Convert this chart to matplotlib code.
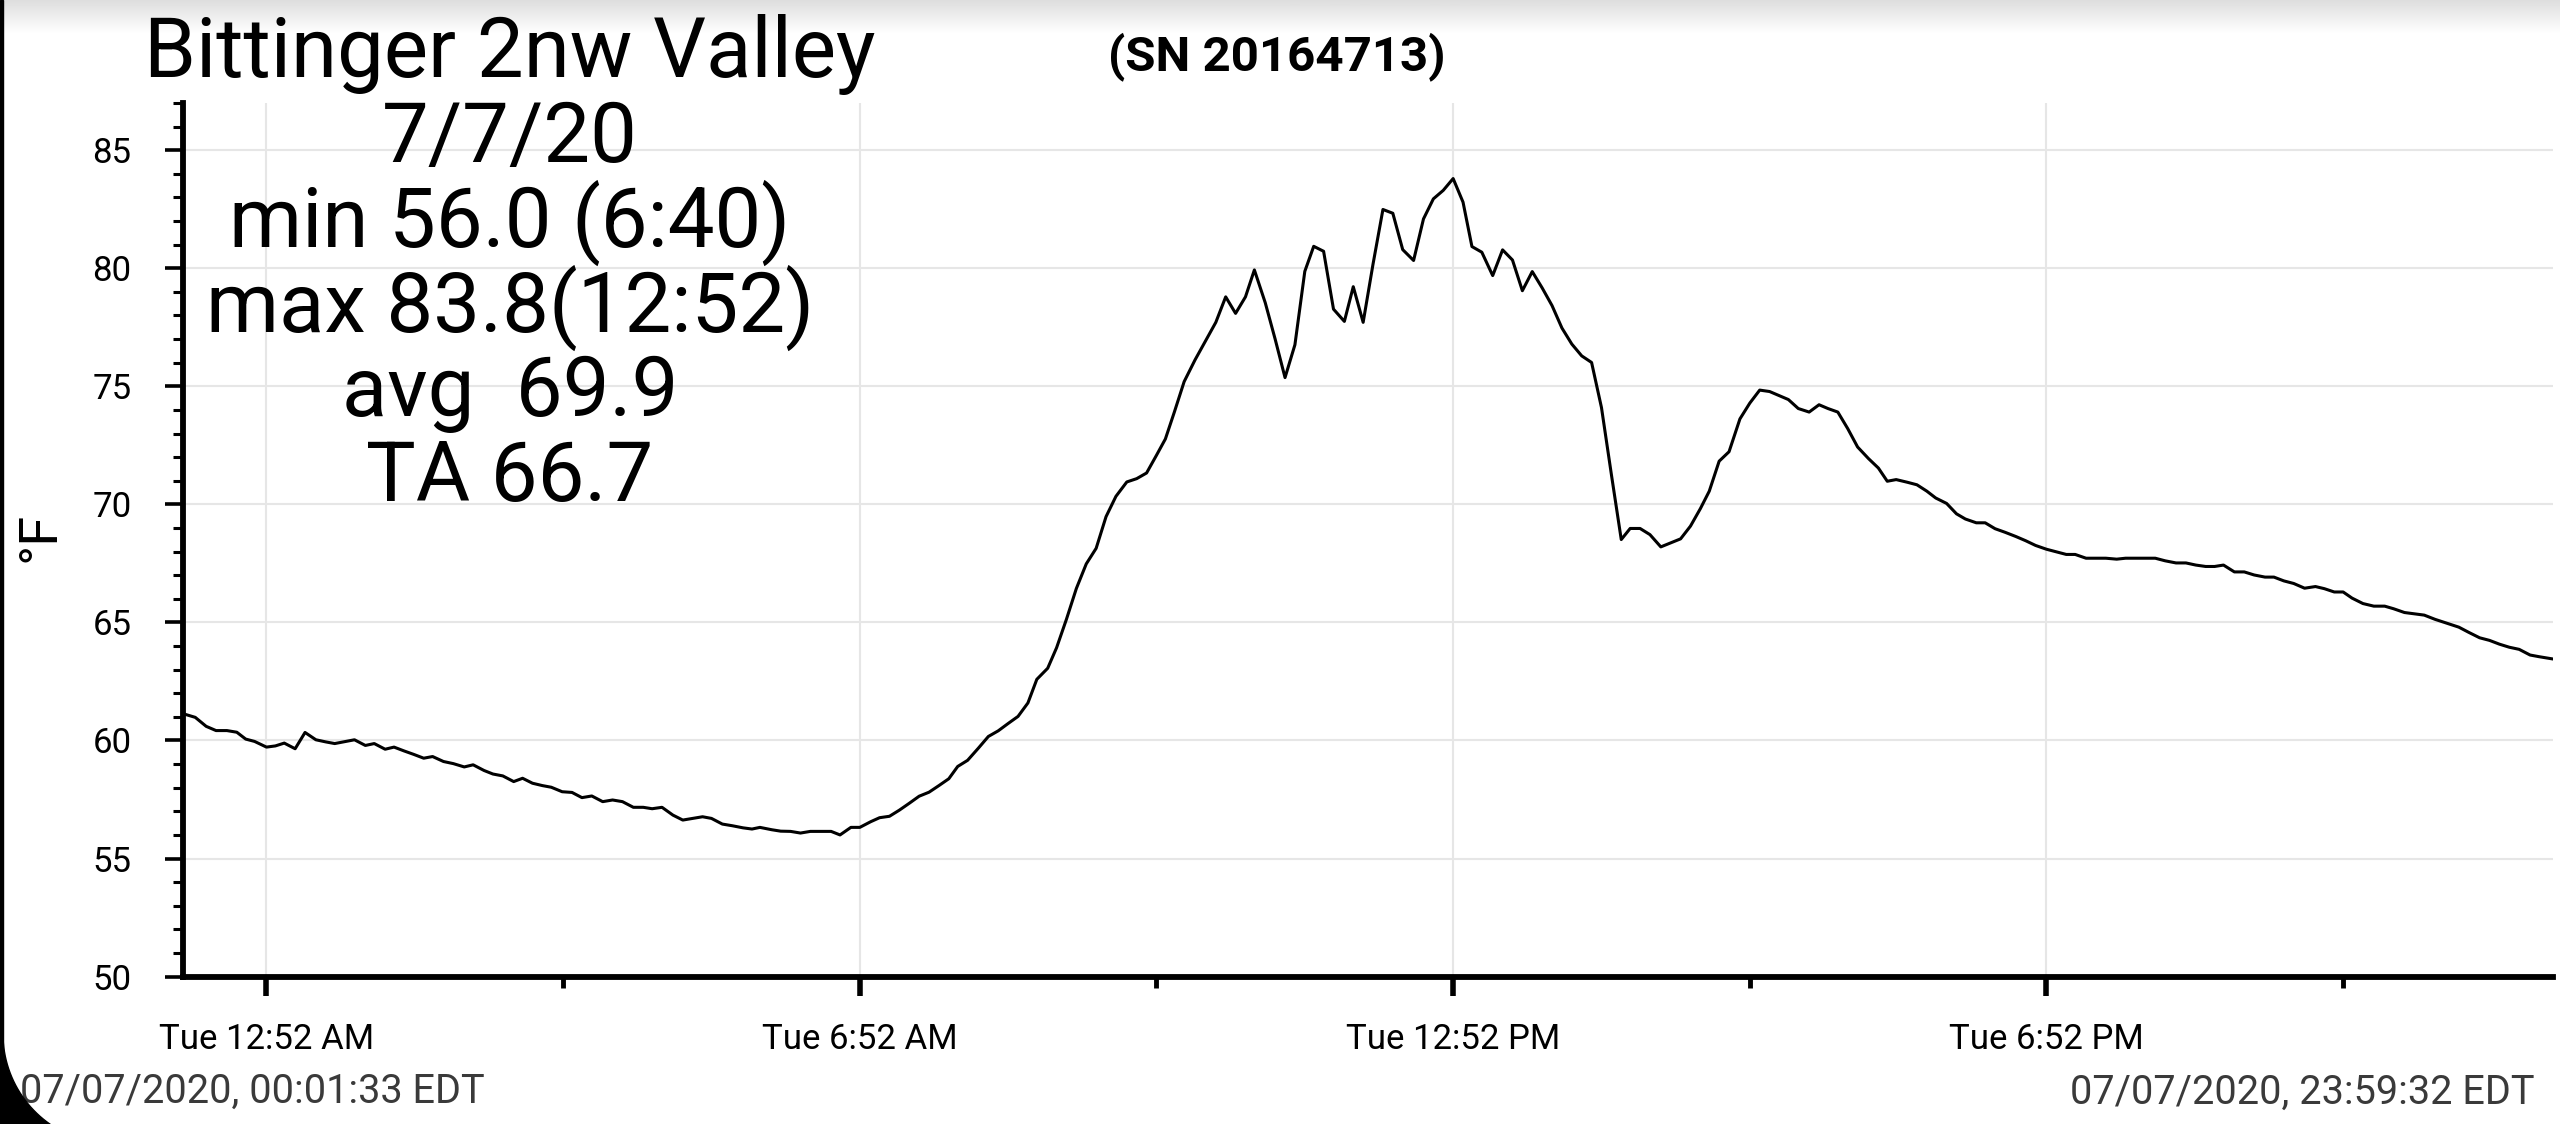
import matplotlib
matplotlib.use("Agg")
import matplotlib.pyplot as plt
import numpy as np
from matplotlib.patches import Rectangle, Polygon
from matplotlib.transforms import Bbox, TransformedBbox

plt.rcParams['font.family'] = ['Roboto', 'DejaVu Sans']

# hours since midnight, 7/7/2020
hours = [
    0.03, 0.15, 0.26, 0.36, 0.47, 0.57, 0.66, 0.75, 0.87, 0.96,
    1.05, 1.16, 1.26, 1.37, 1.47, 1.56, 1.67, 1.76, 1.87, 1.96,
    2.07, 2.16, 2.26, 2.36, 2.46, 2.55, 2.66, 2.76, 2.87, 2.96,
    3.07, 3.16, 3.26, 3.37, 3.46, 3.56, 3.66, 3.75, 3.86, 3.96,
    4.06, 4.16, 4.27, 4.37, 4.47, 4.58, 4.68, 4.77, 4.87, 4.98,
    5.08, 5.18, 5.28, 5.37, 5.48, 5.58, 5.69, 5.78, 5.86, 5.98,
    6.07, 6.17, 6.27, 6.37, 6.48, 6.58, 6.67, 6.78, 6.87, 6.98,
    7.07, 7.17, 7.27, 7.37, 7.47, 7.57, 7.67, 7.77, 7.86, 7.96,
    8.07, 8.17, 8.27, 8.37, 8.47, 8.57, 8.66, 8.77, 8.86, 8.96,
    9.06, 9.16, 9.26, 9.36, 9.46, 9.57, 9.67, 9.77, 9.87, 9.96,
    10.05, 10.15, 10.26, 10.36, 10.47, 10.57, 10.67, 10.77, 10.86, 10.97,
    11.07, 11.17, 11.27, 11.37, 11.46, 11.56, 11.66, 11.77, 11.86, 11.96,
    12.06, 12.16, 12.26, 12.36, 12.47, 12.57, 12.67, 12.77, 12.87, 12.97,
    13.06, 13.16, 13.27, 13.37, 13.47, 13.57, 13.67, 13.77, 13.87, 13.97,
    14.07, 14.17, 14.27, 14.37, 14.47, 14.57, 14.66, 14.76, 14.86, 14.97,
    15.07, 15.17, 15.27, 15.37, 15.46, 15.56, 15.66, 15.77, 15.87, 15.97,
    16.07, 16.16, 16.26, 16.36, 16.47, 16.57, 16.66, 16.76, 16.86, 16.96,
    17.07, 17.17, 17.26, 17.35, 17.46, 17.56, 17.66, 17.75, 17.86, 17.96,
    18.05, 18.16, 18.25, 18.35, 18.45, 18.56, 18.66, 18.76, 18.87, 18.97,
    19.07, 19.16, 19.27, 19.38, 19.47, 19.58, 19.67, 19.78, 19.88, 19.97,
    20.07, 20.18, 20.28, 20.38, 20.48, 20.57, 20.66, 20.77, 20.87, 20.97,
    21.08, 21.17, 21.27, 21.37, 21.48, 21.59, 21.68, 21.78, 21.87, 21.96,
    22.07, 22.18, 22.29, 22.38, 22.49, 22.60, 22.69, 22.80, 22.91, 23.04,
    23.14, 23.25, 23.35, 23.45, 23.55, 23.65, 23.76, 23.85, 23.98,
]
temps_f = [
    61.13, 60.98, 60.60, 60.42, 60.42, 60.35, 60.06, 59.96, 59.72, 59.77,
    59.89, 59.65, 60.34, 60.03, 59.94, 59.87, 59.96, 60.03, 59.79, 59.87,
    59.63, 59.72, 59.56, 59.41, 59.25, 59.32, 59.11, 59.02, 58.88, 58.97,
    58.73, 58.58, 58.50, 58.26, 58.40, 58.19, 58.09, 58.02, 57.83, 57.80,
    57.58, 57.65, 57.41, 57.48, 57.41, 57.17, 57.17, 57.11, 57.17, 56.84,
    56.63, 56.70, 56.77, 56.70, 56.46, 56.39, 56.30, 56.25, 56.32, 56.22,
    56.16, 56.15, 56.08, 56.15, 56.15, 56.15, 56.00, 56.32, 56.32, 56.56,
    56.73, 56.79, 57.05, 57.34, 57.64, 57.81, 58.09, 58.38, 58.90, 59.16,
    59.68, 60.17, 60.41, 60.72, 61.02, 61.59, 62.59, 63.06, 63.93, 65.14,
    66.44, 67.48, 68.14, 69.48, 70.34, 70.95, 71.09, 71.33, 72.08, 72.77,
    73.90, 75.20, 76.12, 76.88, 77.71, 78.79, 78.09, 78.79, 79.93, 78.54,
    77.00, 75.37, 76.76, 79.87, 80.93, 80.72, 78.27, 77.75, 79.22, 77.71,
    80.18, 82.49, 82.33, 80.79, 80.33, 82.09, 82.94, 83.30, 83.80, 82.80,
    80.92, 80.68, 79.69, 80.78, 80.35, 79.05, 79.86, 79.17, 78.42, 77.47,
    76.79, 76.29, 76.01, 74.10, 71.27, 68.51, 68.98, 68.98, 68.72, 68.20,
    68.37, 68.54, 69.08, 69.82, 70.56, 71.83, 72.23, 73.62, 74.29, 74.84,
    74.78, 74.62, 74.44, 74.06, 73.91, 74.22, 74.06, 73.91, 73.21, 72.43,
    71.94, 71.54, 70.98, 71.05, 70.94, 70.83, 70.56, 70.27, 70.04, 69.60,
    69.38, 69.22, 69.22, 68.97, 68.82, 68.64, 68.46, 68.26, 68.10, 67.99,
    67.88, 67.88, 67.72, 67.72, 67.72, 67.68, 67.72, 67.72, 67.72, 67.72,
    67.61, 67.52, 67.52, 67.43, 67.37, 67.37, 67.43, 67.14, 67.14, 67.01,
    66.92, 66.92, 66.76, 66.65, 66.45, 66.52, 66.43, 66.29, 66.29, 66.03,
    65.80, 65.69, 65.69, 65.58, 65.42, 65.36, 65.31, 65.13, 64.98, 64.80,
    64.58, 64.35, 64.24, 64.08, 63.95, 63.86, 63.62, 63.55, 63.46,
]

x_major = [0.867, 6.867, 12.867, 18.867]          # 12:52 AM ... 6:52 PM
x_minor = [3.867, 9.867, 15.867, 21.867]
x_labels = ["Tue 12:52 AM", "Tue 6:52 AM", "Tue 12:52 PM", "Tue 6:52 PM"]
y_major = [50, 55, 60, 65, 70, 75, 80, 85]
start_label = "07/07/2020, 00:01:33 EDT"
end_label = "07/07/2020, 23:59:32 EDT"
info_lines = ["Bittinger 2nw Valley", "7/7/20", "min 56.0 (6:40)",
              "max 83.8(12:52)", "avg  69.9", "TA 66.7"]
serial = "(SN 20164713)"

W, H = 2560, 1124
fig = plt.figure(figsize=(W / 100, H / 100), dpi=100)
fig.patch.set_facecolor("white")

# screenshot shading along the top edge
gax = fig.add_axes([0, 1 - 34 / H, 1, 34 / H], zorder=-5)
grad = np.linspace(0.87, 1.0, 40).reshape(-1, 1)
gax.imshow(grad, cmap="gray", vmin=0, vmax=1, aspect="auto")
gax.axis("off")

ax = fig.add_axes([183 / W, 147.4 / H, (2553 - 183) / W, (976.6 - 103) / H])
ax.plot(hours, temps_f, color="black", lw=2.2, zorder=3)
ax.set_xlim(0.026, 23.992)
ax.set_ylim(50, 87)

ax.set_xticks(x_major)
ax.set_xticklabels(x_labels)
ax.set_xticks(x_minor, minor=True)
ax.set_yticks(y_major)
ax.set_yticks(np.arange(50, 88, 1), minor=True)

ax.grid(True, which="major", color="#e6e6e6", lw=1.5)
ax.set_axisbelow(True)
for s in ("top", "right"):
    ax.spines[s].set_visible(False)
for s in ("left", "bottom"):
    ax.spines[s].set_linewidth(4.2)
    ax.spines[s].set_color("black")

ax.tick_params(axis="y", which="major", length=13, width=2.6, pad=24, labelsize=25)
ax.tick_params(axis="y", which="minor", length=7, width=2.2)
ax.tick_params(axis="x", which="major", length=13.5, width=4, pad=20, labelsize=25)
ax.tick_params(axis="x", which="minor", length=8, width=3.5)

# header block, last line clipped as in the app
for i, line in enumerate(info_lines):
    t = fig.text(510 / W, 1 - (77 + i * 84.8) / H, line, ha="center",
                 va="baseline", fontsize=60, zorder=10)
    if i == len(info_lines) - 1:
        t.set_clip_on(True)
        t.set_clip_box(TransformedBbox(Bbox([[0, 1 - 503 / H], [1, 1]]), fig.transFigure))

fig.text(1277 / W, 1 - 70 / H, serial, ha="center", va="baseline",
         fontsize=35.5, fontweight="bold")
fig.text(40 / W, 1 - 537 / H, "°F", rotation=90, ha="center", va="center", fontsize=39)
fig.text(20 / W, 1 - 1103 / H, start_label, ha="left", va="baseline",
         fontsize=28.5, color="#3a3a3a")
fig.text(2534 / W, 1 - 1104 / H, end_label, ha="right", va="baseline",
         fontsize=28.5, color="#3a3a3a")

# phone screen edge: thin black border and rounded bottom-left corner
fig.patches.append(Rectangle((0, 0), 3 / W, 1, transform=fig.transFigure,
                             color="black", zorder=20))
phi = np.linspace(np.pi, np.pi / 2, 40)
cx = 113 + 110 * np.cos(phi)
cy = 1034 + 110 * np.sin(phi)
px = np.concatenate([[0], cx, [0]])
py = np.concatenate([[1034], cy, [1144]])
fig.patches.append(Polygon(np.column_stack([px / W, 1 - py / H]), closed=True,
                           transform=fig.transFigure, color="black", zorder=20))

fig.savefig("out.png", dpi=100)
